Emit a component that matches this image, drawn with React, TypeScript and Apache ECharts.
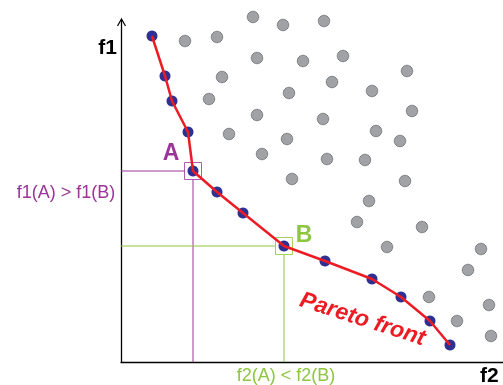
import React, { useEffect, useRef } from "react";
import * as echarts from "echarts";

// Objective values (f2 on x, f1 on y)
const paretoF2 = [31, 44, 51, 67, 72, 96, 122, 163, 204, 251, 280, 309, 329];
const paretoF1 = [326, 286, 261, 230, 191, 170, 149, 116, 101, 83, 65, 41, 17];

const otherF2 = [64, 96, 132, 162, 203, 136, 182, 222, 101, 211, 88, 168, 136, 202, 108, 166, 141, 206, 171,
  286, 251, 291, 255, 279, 244, 284, 248, 236, 301, 266, 360, 347, 308, 368, 336, 370];
const otherF1 = [321, 325, 345, 337, 341, 304, 301, 306, 285, 280, 263, 269, 247, 243, 228, 223, 208, 203, 183,
  291, 271, 251, 231, 221, 202, 181, 161, 140, 135, 115, 113, 92, 65, 57, 41, 26];

const indexA = 4;
const indexB = 7;

const F2_MAX = 382;
const F1_MAX = 342;

const PURPLE = "#9b3597";
const GREEN = "#8dc63f";
const RED = "#ed1c24";
const NAVY = "#2e3192";
const FONT = "Liberation Sans, Arial, Helvetica, sans-serif";

export default function App() {
  const ref = useRef<HTMLDivElement>(null);
  useEffect(() => {
    if (!ref.current) return;
    const chart = echarts.init(ref.current, null, { renderer: "svg" });
    const pareto = paretoF2.map((x, i) => [x, paretoF1[i]]);
    const others = otherF2.map((x, i) => [x, otherF1[i]]);
    const A = pareto[indexA];
    const B = pareto[indexB];
    const half = 8.5;
    const guide = (pts: number[][], color: string, z: number) => ({
      type: "line",
      data: pts,
      symbol: "none",
      silent: true,
      z,
      lineStyle: { color, width: 1 },
      clip: false,
    });
    chart.setOption({
      animation: false,
      grid: { left: 121, right: 0, top: 20, bottom: 23 },
      xAxis: {
        type: "value",
        min: 0,
        max: F2_MAX,
        axisLine: { show: true, lineStyle: { color: "#000", width: 1.3 } },
        axisTick: { show: false },
        axisLabel: { show: false },
        splitLine: { show: false },
      },
      yAxis: {
        type: "value",
        min: 0,
        max: F1_MAX,
        axisLine: { show: true, lineStyle: { color: "#000", width: 1.3 } },
        axisTick: { show: false },
        axisLabel: { show: false },
        splitLine: { show: false },
      },
      series: [
        {
          type: "scatter",
          data: others,
          symbolSize: 11.5,
          clip: false,
          z: 2,
          itemStyle: { color: "#a0a2a6", borderColor: "#7e8084", borderWidth: 1, opacity: 1 },
        },
        guide([[0, A[1]], [A[0] - half, A[1]]], PURPLE, 3),
        guide([[A[0], A[1] - half], [A[0], 0]], PURPLE, 3),
        guide([[0, B[1]], [B[0] - half, B[1]]], GREEN, 4),
        guide([[B[0], B[1] - half], [B[0], 0]], GREEN, 4),
        {
          type: "scatter",
          data: [A],
          symbol: "rect",
          symbolSize: 17,
          z: 5,
          itemStyle: { color: "rgba(255,255,255,0)", borderColor: PURPLE, borderWidth: 1 },
        },
        {
          type: "scatter",
          data: [B],
          symbol: "rect",
          symbolSize: 17,
          z: 5,
          itemStyle: { color: "rgba(255,255,255,0)", borderColor: GREEN, borderWidth: 1 },
        },
        {
          type: "scatter",
          data: pareto,
          symbolSize: 11,
          z: 6,
          clip: false,
          itemStyle: { color: NAVY, opacity: 1 },
        },
        {
          type: "line",
          data: pareto,
          symbol: "none",
          z: 7,
          clip: false,
          lineStyle: { color: RED, width: 2.5 },
        },
      ],
      graphic: [
        {
          type: "polyline",
          shape: { points: [[117.5, 26], [121.5, 19], [125.5, 26]] },
          style: { stroke: "#000", lineWidth: 1.2, fill: "none" },
        },
        {
          type: "text",
          x: 117,
          y: 46,
          style: { text: "f1", font: `bold 21px ${FONT}`, fill: "#000", align: "right", verticalAlign: "middle" },
        },
        {
          type: "text",
          x: 480,
          y: 374,
          style: { text: "f2", font: `bold 21px ${FONT}`, fill: "#000", align: "left", verticalAlign: "middle" },
        },
        {
          type: "text",
          x: 171,
          y: 152,
          style: { text: "A", font: `bold 23px ${FONT}`, fill: PURPLE, align: "center", verticalAlign: "middle" },
        },
        {
          type: "text",
          x: 304,
          y: 234,
          style: { text: "B", font: `bold 23px ${FONT}`, fill: GREEN, align: "center", verticalAlign: "middle" },
        },
        {
          type: "text",
          x: 66,
          y: 192,
          style: { text: "f1(A) > f1(B)", font: `18px ${FONT}`, fill: PURPLE, align: "center", verticalAlign: "middle" },
        },
        {
          type: "text",
          x: 286,
          y: 375,
          style: { text: "f2(A) < f2(B)", font: `18px ${FONT}`, fill: GREEN, align: "center", verticalAlign: "middle" },
        },
        {
          type: "text",
          x: 363,
          y: 318,
          rotation: -0.31,
          style: { text: "Pareto front", font: `italic bold 23px ${FONT}`, fill: RED, align: "center", verticalAlign: "middle" },
        },
      ],
    });
    return () => chart.dispose();
  }, []);
  return <div ref={ref} style={{ position: "fixed", left: 0, top: 0, width: 503, height: 385 }} />;
}
